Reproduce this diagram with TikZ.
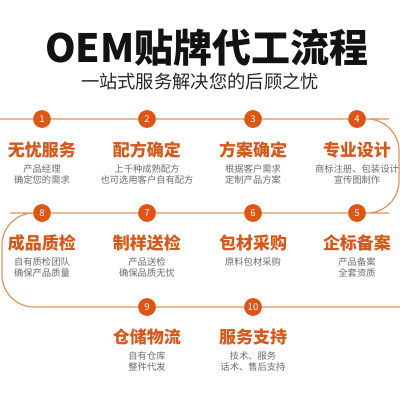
\documentclass[tikz,border=0pt]{standalone}
\usepackage{fontspec}
\newfontfamily\cjk{Noto Sans CJK SC}
\definecolor{flowc}{HTML}{E0935A}
\definecolor{dotc}{HTML}{DE5515}
\definecolor{headc}{HTML}{D45A1C}
\definecolor{descc}{HTML}{6A6A6A}
\tikzset{
  flow/.style={draw=flowc, line width=1.2pt},
  dot/.style={circle, fill=dotc, minimum size=17.5pt, inner sep=0pt, text=white, font=\cjk\fontsize{9.5}{10}\selectfont},
  head/.style={text=headc, font=\cjk\bfseries\fontsize{17}{18}\selectfont, inner sep=0pt},
  desc/.style={text=descc, font=\cjk\fontsize{9.3}{11.2}\selectfont, align=center, inner sep=0pt, anchor=north},
}
\begin{document}
\begin{tikzpicture}[x=1pt,y=-1pt]
\useasboundingbox[fill=white] (0,0) rectangle (400,400);
\node[font=\cjk\bfseries\fontsize{39}{41}\selectfont, text=black!93] (title) at (207,48) {OEM贴牌代工流程};
\node[font=\cjk\fontsize{18.3}{20}\selectfont, text=black!85] (sub) at (200,82) {一站式服务解决您的后顾之忧};
% dots
\node[dot] (c1) at (42,119) {1};
\node[dot] (c2) at (147,119) {2};
\node[dot] (c3) at (253,119) {3};
\node[dot] (c4) at (357,119) {4};
\node[dot] (c5) at (357,213) {5};
\node[dot] (c6) at (253,213) {6};
\node[dot] (c7) at (147,213) {7};
\node[dot] (c8) at (42,213) {8};
\node[dot] (c9) at (147,307) {9};
\node[dot] (c10) at (253,307) {10};
\coordinate (s) at (0,119);
\coordinate (tr) at (399,119);
\coordinate (br) at (399,213);
\coordinate (tl) at (2,213);
\coordinate (bl) at (2,307);
\coordinate (e) at (400,307);
\draw[flow, rounded corners=32] (s) -- (c1.center) -- (c4.center) -- (tr) -- (br) -- (c5.center) -- (c8.center) -- (tl) -- (bl) -- (c9.center) -- (e);
% redraw dots on top
\foreach \n/\t in {c1/1,c2/2,c3/3,c4/4,c5/5,c6/6,c7/7,c8/8,c9/9,c10/10}{\node[dot] at (\n) {\t};}
% headings
\node[head] (h1) at (42,150) {无忧服务};
\node[head] (h2) at (147,150) {配方确定};
\node[head] (h3) at (253,150) {方案确定};
\node[head] (h4) at (357,150) {专业设计};
\node[head] (h5) at (357,243) {企标备案};
\node[head] (h6) at (253,243) {包材采购};
\node[head] (h7) at (147,243) {制样送检};
\node[head] (h8) at (42,243) {成品质检};
\node[head] (h9) at (147,337) {仓储物流};
\node[head] (h10) at (253,337) {服务支持};
% descriptions
\node[desc] (d1) at (42,164) {产品经理\\确定您的需求};
\node[desc] (d2) at (147,164) {上千种成熟配方\\也可选用客户自有配方};
\node[desc] (d3) at (253,164) {根据客户需求\\定制产品方案};
\node[desc] (d4) at (357,164) {商标注册、包装设计\\宣传图制作};
\node[desc] (d5) at (357,257) {产品备案\\全套资质};
\node[desc] (d6) at (253,257) {原料包材采购};
\node[desc] (d7) at (147,257) {产品送检\\确保品质无忧};
\node[desc] (d8) at (42,257) {自有质检团队\\确保产品质量};
\node[desc] (d9) at (147,351) {自有仓库\\整件代发};
\node[desc] (d10) at (253,351) {技术、服务\\话术、售后支持};
\end{tikzpicture}
\end{document}
